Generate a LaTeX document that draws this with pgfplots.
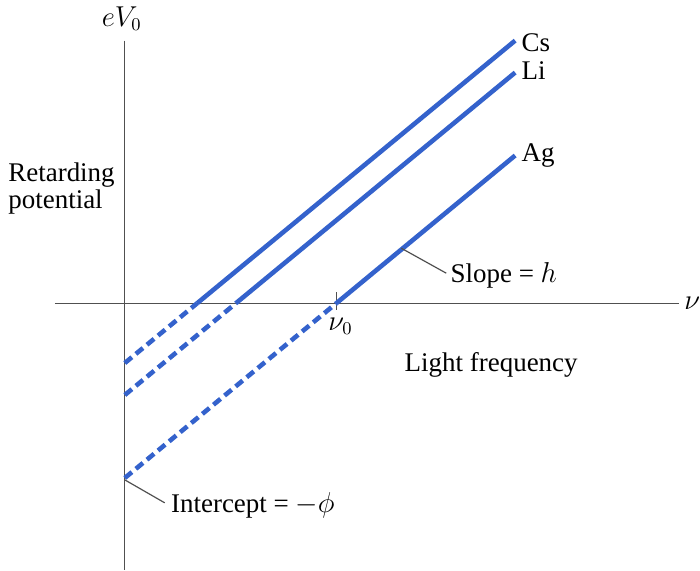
\documentclass[border=0pt]{standalone}
\usepackage{pgfplots}
\pgfplotsset{compat=1.18}
\usepackage{fontspec}
\setmainfont{Liberation Serif}

\definecolor{lineblue}{RGB}{52,98,204}
\definecolor{axisgray}{RGB}{80,80,80}

\begin{document}
\begin{tikzpicture}[font=\fontsize{13.5}{11.8}\selectfont]
\begin{axis}[
  scale only axis,
  width=350pt, height=285pt,
  xmin=-12.5, xmax=57.5,
  ymin=-26.7, ymax=30.3,
  hide axis,
  clip=false,
]
  % frame of the picture
  \path (rel axis cs:0,0) rectangle (rel axis cs:1,1);

  % axes
  \addplot[axisgray, line width=0.65pt] coordinates {(-7,0) (55.5,0)};
  \addplot[axisgray, line width=0.65pt] coordinates {(0,26.3) (0,-26.7)};
  % threshold tick
  \addplot[axisgray, line width=0.65pt] coordinates {(21.2,1.1) (21.2,-0.7)};

  % stopping-energy lines, common slope h
  \addplot[lineblue, line width=2.3pt] coordinates {(7.26,0) (39.1,26.3)};
  \addplot[lineblue, line width=2.3pt, dash pattern=on 4.6pt off 2.6pt] coordinates {(0,-6.0) (7.26,0)};

  \addplot[lineblue, line width=2.3pt] coordinates {(11.14,0) (39.1,23.1)};
  \addplot[lineblue, line width=2.3pt, dash pattern=on 4.6pt off 2.6pt] coordinates {(0,-9.2) (11.14,0)};

  \addplot[lineblue, line width=2.3pt] coordinates {(21.2,0) (39.1,14.79)};
  \addplot[lineblue, line width=2.3pt, dash pattern=on 4.6pt off 2.6pt] coordinates {(0,-17.51) (21.2,0)};

  % leader lines
  \addplot[axisgray, line width=0.6pt] coordinates {(27.7,5.5) (32.2,3.0)};
  \addplot[axisgray, line width=0.6pt] coordinates {(0,-17.7) (4.0,-20.0)};

  % labels
  \node at (axis cs:-0.3,28.5) {$eV_0$};
  \node[anchor=west, inner sep=0pt] at (axis cs:39.7,26.1) {Cs};
  \node[anchor=west, inner sep=0pt] at (axis cs:39.7,23.3) {Li};
  \node[anchor=west, inner sep=0pt] at (axis cs:39.7,14.8) {Ag};
  \node[anchor=west, align=left, inner sep=0pt] at (axis cs:-11.7,11.5) {Retarding\\potential};
  \node[anchor=west, inner sep=0pt] at (axis cs:56.0,0) {$\nu$};
  \node at (axis cs:21.6,-2.3) {$\nu_0$};
  \node at (axis cs:36.7,-6.2) {Light frequency};
  \node[anchor=west, inner sep=0pt] at (axis cs:32.6,2.8) {Slope = $h$};
  \node[anchor=west, inner sep=0pt] at (axis cs:4.6,-20.3) {Intercept = $-\phi$};
\end{axis}
\end{tikzpicture}
\end{document}
